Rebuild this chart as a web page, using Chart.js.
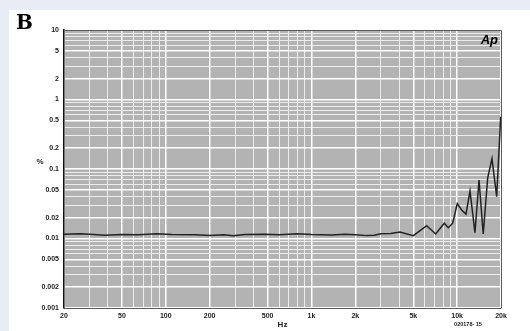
<!DOCTYPE html>
<html>
<head>
<meta charset="utf-8">
<script src="https://cdn.jsdelivr.net/npm/chart.js@4"></script>
<style>
  body { margin: 0; background: #e8ecf5; width: 530px; height: 331px; overflow: hidden; }
  #panel { position: absolute; left: 9px; top: 10px; width: 521px; height: 321px; background: #fff; }
</style>
</head>
<body>
<div id="panel"><canvas id="myChart" width="521" height="321"></canvas></div>
<script>
// THD+N (%) against frequency (Hz)
const freqs = [20, 26, 32, 38, 50, 65, 87, 110, 160, 200, 250, 290, 350, 480, 600, 800, 1000, 1380, 1700, 2000, 2400, 2700, 3000, 3500, 4050, 5000, 6180, 7120, 8160, 8690, 9320, 10020, 10740, 11500, 12250, 13250, 14130, 15100, 16200, 17340, 18680, 19900];
const thdn = [0.0115, 0.0117, 0.0114, 0.0111, 0.0114, 0.0113, 0.0117, 0.0114, 0.0113, 0.0110, 0.0113, 0.0110, 0.0114, 0.0115, 0.0113, 0.0117, 0.0114, 0.0112, 0.0115, 0.0113, 0.0110, 0.0111, 0.0117, 0.0118, 0.0124, 0.0110, 0.0153, 0.0116, 0.0166, 0.0143, 0.0166, 0.0318, 0.0257, 0.0224, 0.0482, 0.0121, 0.0696, 0.0116, 0.074, 0.141, 0.040, 0.565];

const xLabelValues = [20, 50, 100, 200, 500, 1000, 2000, 5000, 10000, 20000];
const xLabelTexts = ['20', '50', '100', '200', '500', '1k', '2k', '5k', '10k', '20k'];
const yLabelValues = [10, 5, 2, 1, 0.5, 0.2, 0.1, 0.05, 0.02, 0.01, 0.005, 0.002, 0.001];
const yLabelTexts = ['10', '5', '2', '1', '0.5', '0.2', '0.1', '0.05', '0.02', '0.01', '0.005', '0.002', '0.001'];

// grid lines at 1..9 of every decade
function decadeGrid(min, max) {
  const out = [];
  for (let e = Math.floor(Math.log10(min)); e <= Math.ceil(Math.log10(max)); e++) {
    for (let k = 1; k < 10; k++) {
      const v = Number((k * Math.pow(10, e)).toPrecision(3));
      if (v >= min * 0.999999 && v <= max * 1.000001) out.push(v);
    }
  }
  return out;
}
function findLabel(values, texts, v) {
  const i = values.findIndex(a => Math.abs(a - v) / a < 1e-6);
  return i < 0 ? '' : texts[i];
}

const tickFont = { family: 'Liberation Sans', size: 7, weight: 'bold' };

const frame = {
  id: 'frame',
  beforeDraw(chart) {
    const { ctx, chartArea: a } = chart;
    ctx.save();
    ctx.fillStyle = '#b3b3b3';
    ctx.fillRect(a.left, a.top, a.right - a.left, a.bottom - a.top);
    ctx.restore();
  },
  afterDraw(chart) {
    const { ctx, chartArea: a } = chart;
    ctx.save();
    ctx.strokeStyle = '#5a5a5a';
    ctx.lineWidth = 1;
    ctx.beginPath();
    ctx.moveTo(a.left, a.top + 0.5);
    ctx.lineTo(a.right + 0.5, a.top + 0.5);
    ctx.lineTo(a.right + 0.5, a.bottom);
    ctx.stroke();

    ctx.fillStyle = '#000';
    ctx.textBaseline = 'alphabetic';
    ctx.textAlign = 'left';
    ctx.font = 'bold 20px "DejaVu Serif"';
    ctx.fillText('B', 7, 19);

    ctx.textAlign = 'right';
    ctx.font = 'italic bold 13px "Liberation Sans"';
    ctx.fillText('Ap', a.right - 3, a.top + 14);

    ctx.fillStyle = '#222';
    ctx.textAlign = 'center';
    ctx.textBaseline = 'middle';
    ctx.font = 'bold 8px "Liberation Sans"';
    ctx.fillText('%', 31, 152);
    ctx.fillText('Hz', (a.left + a.right) / 2, 315);
    ctx.font = 'bold 5.5px "Liberation Sans"';
    ctx.fillText('020178- 15', 459, 314);
    ctx.restore();
  }
};

const ctx = document.getElementById('myChart').getContext('2d');

new Chart(ctx, {
  type: 'line',
  data: {
    datasets: [{
      data: freqs.map((f, i) => ({ x: f, y: thdn[i] })),
      borderColor: '#222222',
      borderWidth: 1.5,
      pointRadius: 0,
      tension: 0,
      fill: false
    }]
  },
  options: {
    responsive: false,
    devicePixelRatio: 1,
    animation: false,
    events: [],
    layout: { padding: { top: 20, right: 29, left: 0, bottom: 0 } },
    plugins: { legend: { display: false }, tooltip: { enabled: false } },
    scales: {
      x: {
        type: 'logarithmic',
        min: 20,
        max: 20000,
        afterFit: s => { s.height = 23; },
        afterBuildTicks: s => { s.ticks = decadeGrid(20, 20000).map(v => ({ value: v })); },
        grid: {
          drawTicks: false,
          color: c => findLabel(xLabelValues, xLabelTexts, c.tick.value) ? '#ffffff' : '#ececec',
          lineWidth: c => findLabel(xLabelValues, xLabelTexts, c.tick.value) ? 1.5 : 1
        },
        border: { display: true, color: '#5a5a5a', width: 1 },
        ticks: {
          autoSkip: false,
          maxRotation: 0,
          minRotation: 0,
          padding: 4,
          color: '#222',
          font: tickFont,
          callback: v => findLabel(xLabelValues, xLabelTexts, v)
        }
      },
      y: {
        type: 'logarithmic',
        min: 0.001,
        max: 10,
        afterFit: s => { s.width = 55; },
        afterBuildTicks: s => { s.ticks = decadeGrid(0.001, 10).map(v => ({ value: v })); },
        grid: {
          drawTicks: false,
          color: c => findLabel(yLabelValues, yLabelTexts, c.tick.value) ? '#ffffff' : '#ececec',
          lineWidth: c => findLabel(yLabelValues, yLabelTexts, c.tick.value) ? 1.5 : 1
        },
        border: { display: true, color: '#111', width: 1.5 },
        ticks: {
          autoSkip: false,
          padding: 5,
          color: '#222',
          font: tickFont,
          callback: v => findLabel(yLabelValues, yLabelTexts, v)
        }
      }
    }
  },
  plugins: [frame]
});
</script>
</body>
</html>
